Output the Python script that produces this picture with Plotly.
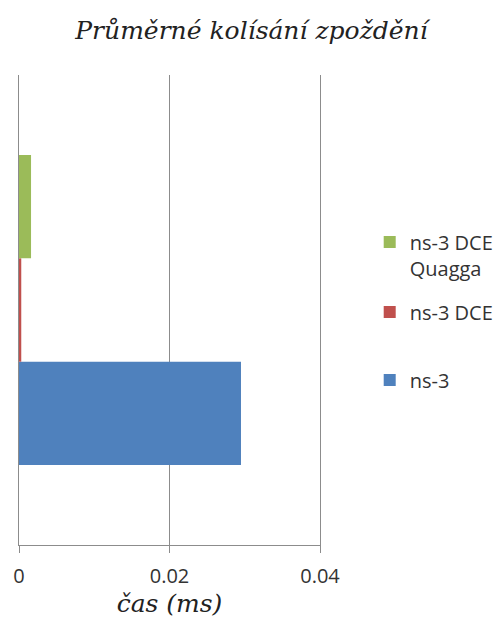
import plotly.graph_objects as go

category = [""]
series_names = ["ns-3", "ns-3 DCE", "ns-3 DCE<br>Quagga"]
series_values = [[0.0295], [0.0003], [0.0016]]
colors = ["#4F81BD", "#C0504D", "#9BBB59"]
legend_ids = ["legend3", "legend2", "legend"]

tick_vals = [0, 0.02, 0.04]
tick_text = ["0", "0.02", "0.04"]

fig = go.Figure()
for name, vals, col, lg in zip(series_names, series_values, colors, legend_ids):
    fig.add_trace(go.Bar(
        y=category, x=vals, name=name, orientation="h",
        marker=dict(color=col, line=dict(width=0)),
        legend=lg,
    ))

leg_common = dict(xref="container", yref="container", x=0.735, xanchor="left",
                  yanchor="middle", bgcolor="rgba(0,0,0,0)",
                  font=dict(family="Open Sans", size=20, color="#333"),
                  itemwidth=30)

fig.update_layout(
    width=503, height=627,
    margin=dict(l=19, r=183, t=75, b=82),
    paper_bgcolor="white", plot_bgcolor="white",
    barmode="group", bargap=0.34, bargroupgap=0,
    showlegend=True,
    title=dict(text="Průměrné kolísání zpoždění", x=0.5, xanchor="center",
               y=1 - 30 / 627, yanchor="middle",
               font=dict(family="DejaVu Serif", size=25, style="italic", color="#222")),
    legend=dict(y=1 - 255 / 627, valign="top", **leg_common),
    legend2=dict(y=1 - 312 / 627, **leg_common),
    legend3=dict(y=1 - 380 / 627, **leg_common),
    xaxis=dict(range=[0, 0.04], tickvals=tick_vals, ticktext=tick_text,
               showgrid=True, gridcolor="#8c8c8c", gridwidth=1,
               showline=True, linecolor="#8c8c8c", linewidth=1,
               ticks="outside", ticklen=7, tickcolor="#8c8c8c",
               ticklabelstandoff=6,
               tickfont=dict(family="Open Sans", size=20, color="#333"),
               zeroline=False,
               title=dict(text="čas (ms)", standoff=3,
                          font=dict(family="DejaVu Serif", size=25, style="italic", color="#222"))),
    yaxis=dict(showticklabels=False, showline=True, linecolor="#8c8c8c", linewidth=1,
               mirror=True, showgrid=False, ticks=""),
)

fig.write_html("out.html")
